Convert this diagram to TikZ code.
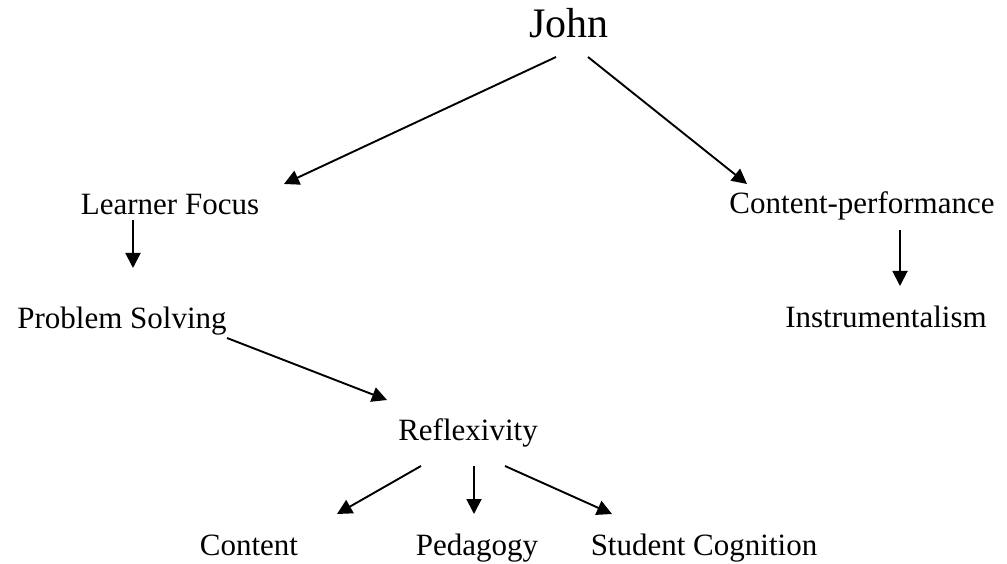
\documentclass[tikz,border=0pt]{standalone}
\usepackage{fontspec}
\setmainfont{Liberation Serif}
\usetikzlibrary{arrows.meta}
\tikzset{
  lab/.style={font=\fontsize{31}{36}\selectfont, inner sep=0pt, anchor=base},
  rootlab/.style={lab, font=\fontsize{42}{48}\selectfont},
  arr/.style={-{Triangle[length=15pt, width=15pt]}, line width=1.9pt},
}
\begin{document}
\begin{tikzpicture}[x=1pt, y=-1pt]
  \useasboundingbox (0,0) rectangle (1007,564);

  \node[rootlab] (john) at (569,38) {John};
  \node[lab] (learner) at (170,215) {Learner Focus};
  \node[lab] (perf) at (862,214) {Content-performance};
  \node[lab] (problem) at (122,328) {Problem Solving};
  \node[lab] (instr) at (886,327) {Instrumentalism};
  \node[lab] (reflex) at (468,440) {Reflexivity};
  \node[lab] (content) at (249,555) {Content};
  \node[lab] (pedagogy) at (477,555) {Pedagogy};
  \node[lab] (student) at (704,555) {Student Cognition};

  % arrow ends (arrows stand free of the labels)
  \coordinate (john-l) at (556,57);
  \coordinate (john-r) at (588,57);
  \coordinate (learner-in) at (284,184);
  \coordinate (perf-in) at (747,184);
  \coordinate (learner-out) at (133,220);
  \coordinate (problem-in) at (133,268);
  \coordinate (perf-out) at (900,230);
  \coordinate (instr-in) at (900,286);
  \coordinate (problem-out) at (227,338);
  \coordinate (reflex-in) at (387,400);
  \coordinate (reflex-l) at (421,466);
  \coordinate (reflex-m) at (474,466);
  \coordinate (reflex-r) at (505,466);
  \coordinate (content-in) at (337,514);
  \coordinate (pedagogy-in) at (474,514);
  \coordinate (student-in) at (612,514);

  \draw[arr] (john-l) -- (learner-in);
  \draw[arr] (john-r) -- (perf-in);
  \draw[arr] (learner-out) -- (problem-in);
  \draw[arr] (perf-out) -- (instr-in);
  \draw[arr] (problem-out) -- (reflex-in);
  \draw[arr] (reflex-l) -- (content-in);
  \draw[arr] (reflex-m) -- (pedagogy-in);
  \draw[arr] (reflex-r) -- (student-in);
\end{tikzpicture}
\end{document}
